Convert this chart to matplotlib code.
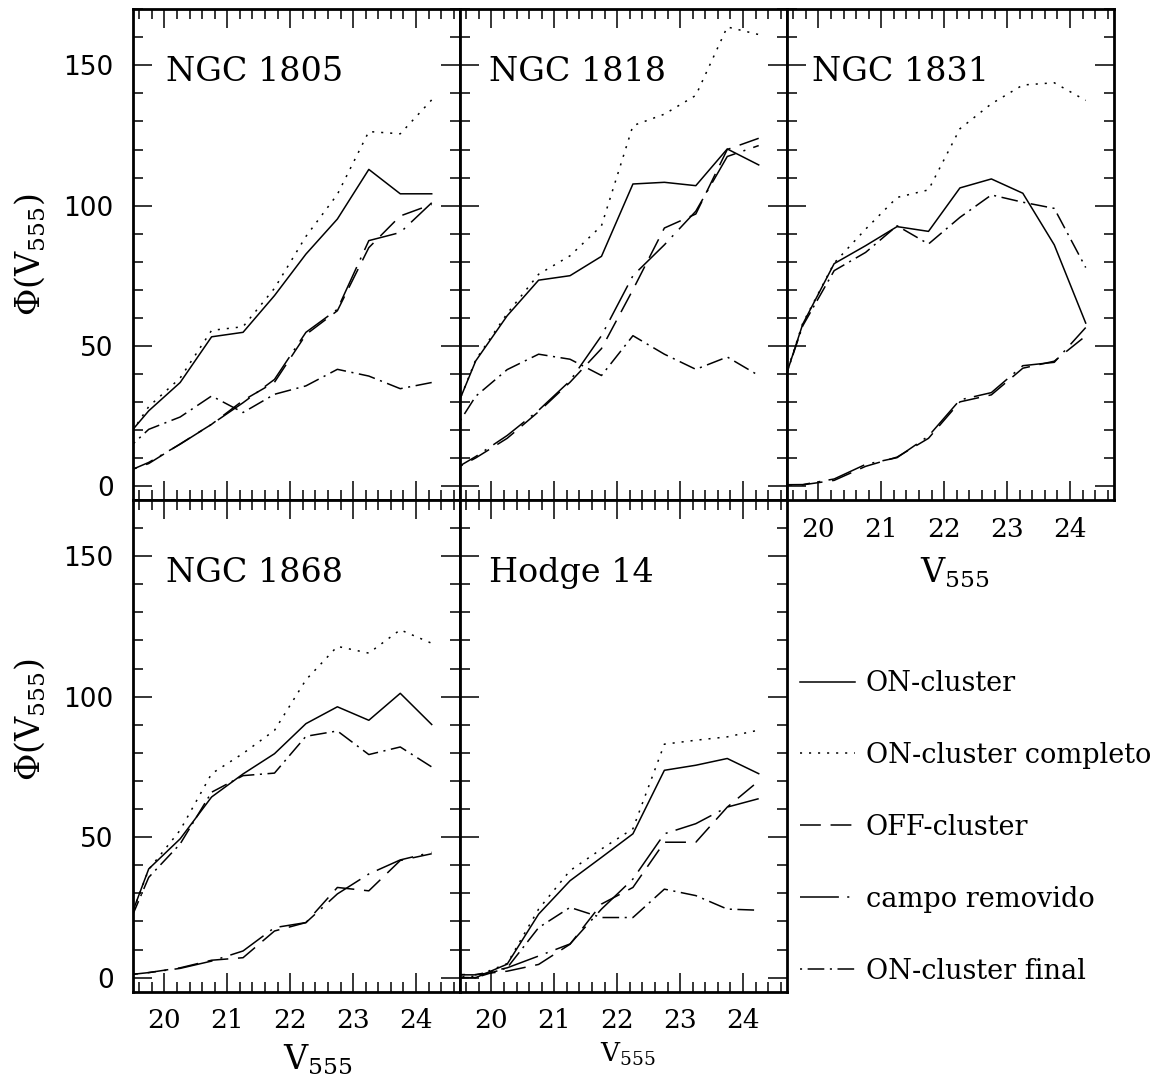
import matplotlib
matplotlib.use('Agg')
import matplotlib.pyplot as plt
from matplotlib.ticker import MultipleLocator

plt.rcParams['font.family'] = 'DejaVu Serif'
plt.rcParams['mathtext.fontset'] = 'dejavuserif'
plt.rcParams['lines.scale_dashes'] = False

# V555 bins (first bin is partly outside the axis window)
mag = [19.25, 19.75, 20.25, 20.75, 21.25, 21.75, 22.25, 22.75, 23.25, 23.75, 24.25]

clusters = ['NGC 1805', 'NGC 1818', 'NGC 1831', 'NGC 1868', 'Hodge 14']

# NGC 1805
n1805_on = [13.6, 26.8, 36.9, 53.2, 54.8, 67.9, 82.7, 95.2, 112.9, 104.2, 104.2]
n1805_comp = [11.5, 28.3, 38.5, 55.5, 56.8, 70.5, 89, 104, 126.4, 125.6, 137.7]
n1805_off = [4, 8, 15, 22, 30.5, 37, 54, 62.5, 85, 96.3, 100.4]
n1805_campo = [3.6, 8.4, 14.9, 22, 29.7, 38, 54.8, 63, 87.5, 90.4, 101]
n1805_final = [9.8, 20.2, 24.6, 32.1, 26.2, 32.7, 35.7, 41.6, 39.2, 34.7, 36.9]

# NGC 1818
n1818_on = [17.4, 44.6, 60.7, 73.4, 75, 81.9, 107.7, 108.3, 107.1, 120.2, 114.5]
n1818_comp = [17, 45, 61.5, 75.5, 82.1, 92.8, 128.5, 132.6, 139.3, 163.7, 161]
n1818_off = [4, 10, 17, 26.5, 37, 49, 70, 92, 97, 120, 124]
n1818_campo = [3.9, 10.5, 18, 27, 37.5, 53.6, 75, 86, 98, 117.5, 121.4]
n1818_final = [14.4, 32, 41.5, 47, 45.2, 39.4, 53.6, 47, 41.6, 46, 39.4]

# NGC 1831
n1831_on = [23.3, 57.7, 79.3, 85.7, 92.5, 90.8, 106.3, 109.5, 104.4, 86, 58.1]
n1831_comp = [23.5, 58, 79.5, 91.6, 102.9, 105.6, 127.4, 136.3, 143, 143.8, 137.5]
n1831_off = [0.4, 0.4, 2.0, 7.0, 10.3, 17.0, 30.0, 32.5, 42.0, 44.5, 53.5]
n1831_campo = [0.4, 0.5, 2.5, 7.7, 10.1, 17.8, 30.7, 33.3, 42.9, 44.1, 56.5]
n1831_final = [23.9, 57.1, 76.8, 83.3, 92.8, 86.3, 95.8, 103.8, 101.2, 99, 77.9]

# NGC 1868
n1868_on = [8.9, 38.7, 49.4, 64.3, 72.5, 79.7, 90.4, 96.4, 91.6, 101.2, 90.1]
n1868_comp = [9, 38.5, 52.5, 72.6, 79.8, 88, 106, 117.9, 115.5, 123.8, 119]
n1868_off = [0.6, 1.8, 3.5, 6.2, 7.1, 16.6, 19.6, 32.1, 30.9, 41.7, 44.1]
n1868_campo = [0.6, 1.8, 3.3, 5.9, 9.5, 17.8, 19.6, 29.8, 36.9, 41.9, 44.6]
n1868_final = [9.5, 35.7, 47.6, 66, 71.9, 72.8, 85.9, 87.8, 79.4, 82.1, 75]

# Hodge 14
h14_on = [0, 0, 4.8, 22.6, 34.5, 42.8, 51.2, 73.8, 75.6, 78, 72.6]
h14_comp = [0, 0.5, 5, 24.4, 38.1, 45.8, 53, 83.1, 84.5, 85.7, 88.1]
h14_off = [1.1, 1.1, 2.3, 4.7, 11.9, 26.2, 32.1, 48.2, 48.2, 60.7, 70]
h14_campo = [1, 1, 3.5, 7.7, 12, 24.4, 35.1, 51.2, 54.8, 60.7, 63.7]
h14_final = [0, 0, 3.5, 17.8, 25, 21.4, 21.4, 31.5, 29.2, 24.4, 24]

labels = ['ON-cluster', 'ON-cluster completo', 'OFF-cluster',
          'campo removido', 'ON-cluster final']
styles = ['-', (0, (1.5, 5)), (0, (15, 7)), (0, (28, 6, 1.5, 6)), (0, (1.5, 4, 12, 4))]

panel_data = [
    [n1805_on, n1805_comp, n1805_off, n1805_campo, n1805_final],
    [n1818_on, n1818_comp, n1818_off, n1818_campo, n1818_final],
    [n1831_on, n1831_comp, n1831_off, n1831_campo, n1831_final],
    [n1868_on, n1868_comp, n1868_off, n1868_campo, n1868_final],
    [h14_on, h14_comp, h14_off, h14_campo, h14_final],
]

W, H = 1172, 1090
col_left = [133, 460, 787]
row_span = [(9.3, 500), (500, 991.7)]
slots = [(0, 0), (0, 1), (0, 2), (1, 0), (1, 1)]
name_x = [0.10, 0.09, 0.075, 0.10, 0.09]
name_y = [0.853, 0.853, 0.853, 0.834, 0.834]

fig = plt.figure(figsize=(W / 100, H / 100), dpi=100)

handles = None
for i, (r, c) in enumerate(slots):
    top, bot = row_span[r]
    ax = fig.add_axes([col_left[c] / W, 1 - bot / H, 327 / W, (bot - top) / H])
    lines = []
    for vals, ls, lab in zip(panel_data[i], styles, labels):
        ln, = ax.plot(mag, vals, color='k', lw=1.1, linestyle=ls, label=lab)
        lines.append(ln)
    if handles is None:
        handles = lines
    ax.set_xlim(19.5, 24.7)
    ax.set_ylim(-5, 170)
    ax.xaxis.set_major_locator(MultipleLocator(1))
    ax.xaxis.set_minor_locator(MultipleLocator(0.2))
    ax.set_yticks([0, 50, 100, 150])
    ax.yaxis.set_minor_locator(MultipleLocator(10))
    ax.tick_params(which='both', direction='in', top=True, right=True, width=1.1)
    ax.tick_params(which='major', length=14)
    ax.tick_params(which='minor', length=7)
    ax.tick_params(axis='x', labelsize=19, pad=12)
    ax.tick_params(axis='y', labelsize=19, pad=14)
    for sp in ax.spines.values():
        sp.set_linewidth(2)
    if c == 0:
        ax.set_yticklabels(['0', '50', '100', '150'], fontfamily='DejaVu Sans')
    else:
        ax.tick_params(axis='y', labelleft=False)
    if not (r == 1 or c == 2):
        ax.tick_params(axis='x', labelbottom=False)
    ax.text(name_x[i], name_y[i], clusters[i], transform=ax.transAxes,
            fontsize=24, va='baseline', ha='left')
    if i == 3:
        ax.text(0.459, -0.159, r'$\mathrm{V}_{555}$', transform=ax.transAxes,
                fontsize=24, va='baseline', ha='left')
    elif i == 4:
        ax.text(0.428, -0.143, r'$\mathrm{V}_{555}$', transform=ax.transAxes,
                fontsize=19, va='baseline', ha='left')
    elif i == 2:
        ax.text(0.407, -0.169, r'$\mathrm{V}_{555}$', transform=ax.transAxes,
                fontsize=24, va='baseline', ha='left')

for yc in [255, 720]:
    fig.text(30 / W, 1 - yc / H, r'$\Phi(\mathrm{V}_{555})$', rotation=90,
             fontsize=24, ha='center', va='center')

fig.legend(handles=handles, loc='upper left',
           bbox_to_anchor=(800 / W, 1 - 670 / H), frameon=False,
           borderpad=0, borderaxespad=0, fontsize=19.5, handlelength=2.03,
           handletextpad=0.4, labelspacing=1.66)

fig.savefig('out.png', dpi=100)
